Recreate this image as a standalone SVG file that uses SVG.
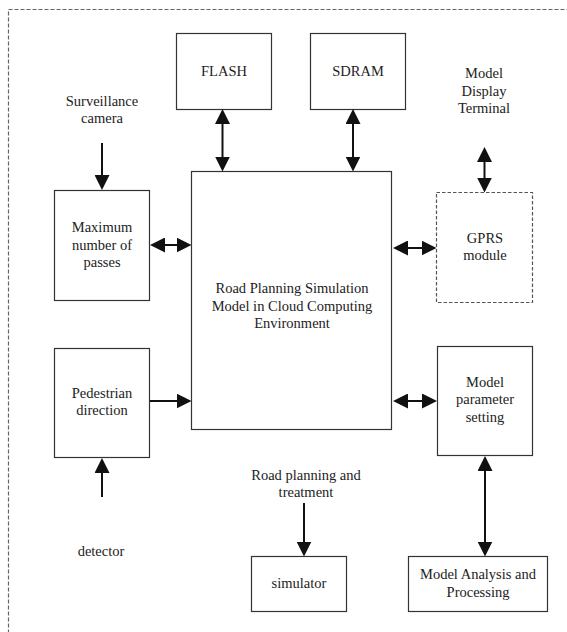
<svg xmlns="http://www.w3.org/2000/svg" width="567" height="632" viewBox="0 0 567 632">
<style>
.box{fill:#fff;stroke:#333;stroke-width:1.2}
.dbox{fill:#fff;stroke:#555;stroke-width:1.2;stroke-dasharray:3.5 2}
.frame{fill:none;stroke:#666;stroke-width:1.2;stroke-dasharray:4 2}
text{font-family:'Liberation Serif','DejaVu Serif',serif;font-size:14.5px;fill:#222;text-anchor:middle}
.a{stroke:#111;stroke-width:2;fill:none}
.one{marker-end:url(#ah)}
.two{marker-start:url(#ah);marker-end:url(#ah)}
</style>
<defs>
<marker id="ah" markerUnits="userSpaceOnUse" markerWidth="15" markerHeight="15" viewBox="0 0 15 15" refX="12" refY="7.5" orient="auto-start-reverse">
<path d="M0,0 L15,7.5 L0,15 z" fill="#111"/>
</marker>
</defs>
<rect class="frame" x="8.5" y="9.5" width="620" height="700"/>
<g font-family="Liberation Serif, DejaVu Serif, serif">
<g id="flash"><rect class="box" x="176.5" y="33.5" width="95" height="76"/><text x="224" y="76">FLASH</text></g>
<g id="sdram"><rect class="box" x="310.5" y="33.5" width="95" height="76"/><text x="358" y="76">SDRAM</text></g>
<g id="camera"><text x="102" y="106">Surveillance</text><text x="102" y="123">camera</text></g>
<g id="terminal"><text x="484" y="78">Model</text><text x="484" y="96">Display</text><text x="484" y="113">Terminal</text></g>
<g id="main"><rect class="box" x="191.5" y="171.5" width="200" height="258"/><text x="292" y="293">Road Planning Simulation</text><text x="292" y="311">Model in Cloud Computing</text><text x="292" y="328">Environment</text></g>
<g id="maxpass"><rect class="box" x="54.5" y="190.5" width="95" height="110"/><text x="102" y="232">Maximum</text><text x="102" y="250">number of</text><text x="102" y="267">passes</text></g>
<g id="gprs"><rect class="dbox" x="436.5" y="192.5" width="96" height="110"/><text x="485" y="243">GPRS</text><text x="485" y="260">module</text></g>
<g id="pedestrian"><rect class="box" x="54.5" y="348.5" width="95" height="109"/><text x="102" y="398">Pedestrian</text><text x="102" y="415">direction</text></g>
<g id="param"><rect class="box" x="437.5" y="346.5" width="95" height="109"/><text x="485" y="387">Model</text><text x="485" y="404">parameter</text><text x="485" y="422">setting</text></g>
<g id="detector"><text x="101" y="556">detector</text></g>
<g id="road"><text x="306" y="480">Road planning and</text><text x="306" y="497">treatment</text></g>
<g id="simulator"><rect class="box" x="251.5" y="556.5" width="95" height="55"/><text x="299" y="588">simulator</text></g>
<g id="analysis"><rect class="box" x="408.5" y="556.5" width="139" height="55"/><text x="478" y="579">Model Analysis and</text><text x="478" y="597">Processing</text></g>
</g>
<g id="connectors">
<line class="a two" x1="222.5" y1="112" x2="222.5" y2="168.5"/>
<line class="a two" x1="353" y1="112" x2="353" y2="168.5"/>
<line class="a one" x1="102" y1="143" x2="102" y2="187"/>
<line class="a two" x1="484.5" y1="150" x2="484.5" y2="189.5"/>
<line class="a two" x1="153" y1="245" x2="188.5" y2="245"/>
<line class="a two" x1="396" y1="248" x2="433.5" y2="248"/>
<line class="a one" x1="150" y1="401" x2="188.5" y2="401"/>
<line class="a two" x1="396" y1="401" x2="434" y2="401"/>
<line class="a one" x1="102" y1="497" x2="102" y2="461"/>
<line class="a one" x1="304" y1="503" x2="304" y2="553.5"/>
<line class="a two" x1="485" y1="459" x2="485" y2="553.5"/>
</g>
</svg>
